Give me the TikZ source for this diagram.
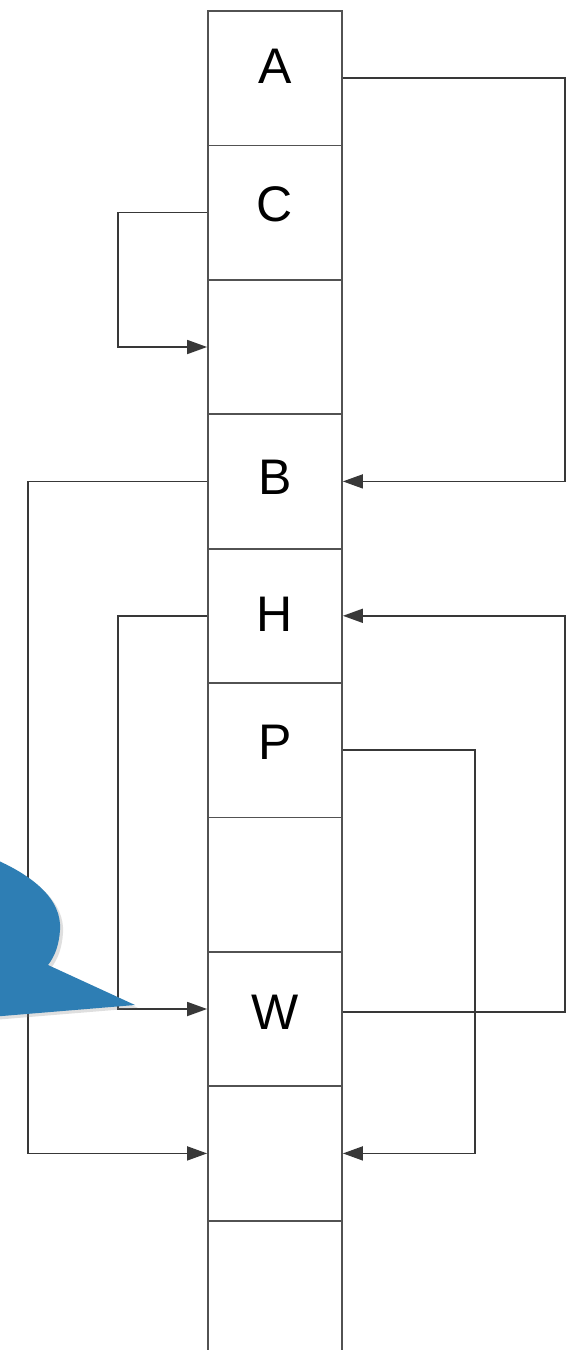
\documentclass[tikz,border=0pt]{standalone}
\usepackage{fontspec}
\setmainfont{Liberation Sans}
\usetikzlibrary{arrows.meta,shadows}
\definecolor{bubble}{RGB}{46,126,180}
\begin{document}
\begin{tikzpicture}[x=1pt,y=-1pt,
  cell/.style={draw=black!68, line width=1.8pt, minimum width=134pt, minimum height=134.4pt, inner sep=0pt},
  lbl/.style={font=\fontsize{50}{60}\selectfont, inner sep=0pt},
  conn/.style={draw=black!78, line width=1.7pt},
  arr/.style={conn, -{Triangle[length=20pt,width=14pt]}}]
\useasboundingbox (0,0) rectangle (573,1350);
\clip (0,0) rectangle (573,1350);
\fill[white] (0,0) rectangle (573,1350);
\foreach \i in {0,...,9} {
  \node[cell] (c\i) at (275,{78.2+134.4*\i}) {};
}
\node[lbl] (lA) at ([yshift=12pt]c0.center) {A};
\node[lbl] (lC) at ([yshift=8pt]c1.center) {C};
\node[lbl] (lB) at ([yshift=4pt]c3.center) {B};
\node[lbl] (lH) at ([yshift=2pt]c4.center) {H};
\node[lbl] (lP) at ([yshift=8pt]c5.center) {P};
\node[lbl] (lW) at ([yshift=7pt]c7.center) {W};
\coordinate (xr) at (565,0);
\coordinate (xp) at (475,0);
\coordinate (xl) at (28,0);
\coordinate (xm) at (118,0);
% A -> B
\draw[arr] (c0.east) -- (c0.east -| xr) |- (c3.east);
% C -> empty
\draw[arr] (c1.west) -- (c1.west -| xm) |- (c2.west);
% B -> c8
\draw[arr] (c3.west) -- (c3.west -| xl) |- (c8.west);
% H -> W
\coordinate (wl) at ([yshift=10pt]c7.west);
\draw[arr] (c4.west) -- (c4.west -| xm) |- (wl);
% P -> c8
\draw[arr] (c5.east) -- (c5.east -| xp) |- (c8.east);
% W -> H
\coordinate (wr) at ([yshift=7pt]c7.east);
\draw[arr] (wr) -- (wr -| xr) |- (c4.east);
% speech bubble
\fill[bubble, drop shadow={opacity=0.25, shadow xshift=3pt, shadow yshift=-3pt}]
  (-10,857) .. controls (35,876) and (62,900) .. (60,930)
  .. controls (59,945) and (55,956) .. (48,965)
  -- (135,1005) -- (-10,1017) -- cycle;
\end{tikzpicture}
\end{document}
